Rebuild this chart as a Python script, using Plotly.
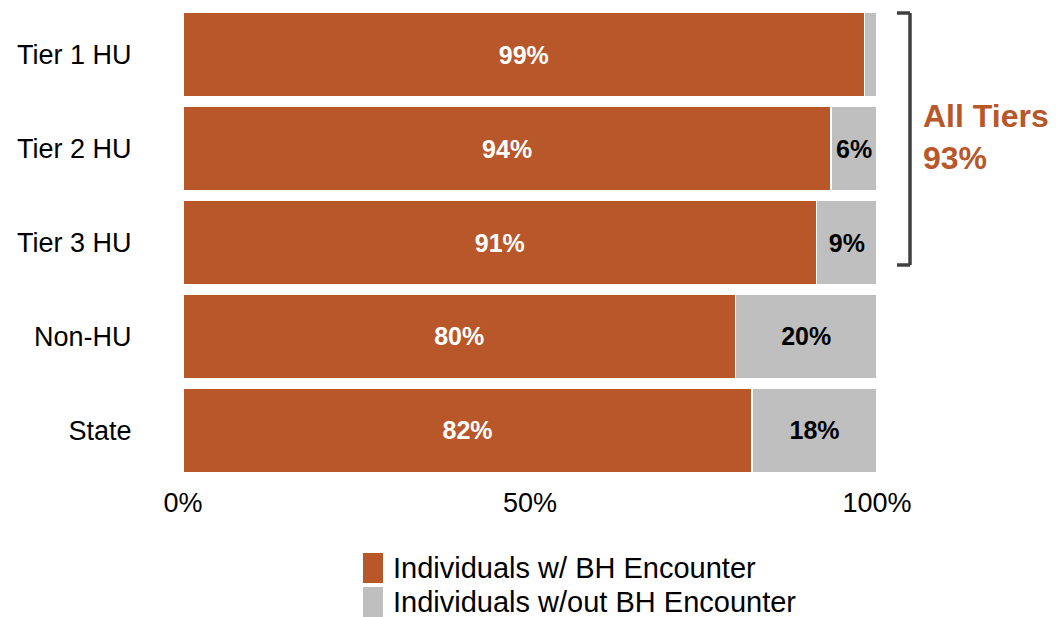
import plotly.graph_objects as go

categories = ["Tier 1 HU", "Tier 2 HU", "Tier 3 HU", "Non-HU", "State"]
with_bh = [98.2, 93.4, 91.3, 79.6, 82.0]
without_bh = [1.8, 6.6, 8.7, 20.4, 18.0]
with_labels = ["99%", "94%", "91%", "80%", "82%"]
without_labels = ["", "6%", "9%", "20%", "18%"]
series_names = ["Individuals w/ BH Encounter", "Individuals w/out BH Encounter"]
tick_vals = [0, 50, 100]
tick_text = ["0%", "50%", "100%"]
annotation_lines = ["All Tiers", "93%"]

ORANGE = "#B8572A"
GRAY = "#BFBFBF"
FONT = "Liberation Sans, Arial, sans-serif"

# page body has an 8px margin; work in page pixels and convert
OFF = 8
PW, PH = 1057, 617
W, H = PW - OFF, PH - OFF
# plot area in page pixels: x 183..877, y 8..477
L, R, T, B = 183, 877, 8, 477


def px(x):
    return (x - L) / (R - L)


def py(y):
    return (B - y) / (B - T)


fig = go.Figure()
fig.add_trace(go.Bar(
    y=categories, x=with_bh, orientation="h", name=series_names[0],
    marker=dict(color=ORANGE, line=dict(color="white", width=1.5)),
    text=with_labels, textposition="inside", insidetextanchor="middle",
    textfont=dict(color="white", size=25, family=FONT, weight="bold"),
    constraintext="none", hoverinfo="skip", showlegend=False,
))
fig.add_trace(go.Bar(
    y=categories, x=without_bh, orientation="h", name=series_names[1],
    marker=dict(color=GRAY, line=dict(color="white", width=1.5)),
    text=without_labels, textposition="inside", insidetextanchor="middle",
    textfont=dict(color="black", size=25, family=FONT, weight="bold"),
    constraintext="none", hoverinfo="skip", showlegend=False,
))

# bracket
bx, btip, btop, bbot = px(910), px(897), py(13), py(265)
for x0, y0, x1, y1 in [(bx, btop, bx, bbot), (btip, btop, bx, btop), (btip, bbot, bx, bbot)]:
    fig.add_shape(type="line", xref="paper", yref="paper", x0=x0, y0=y0, x1=x1, y1=y1,
                  line=dict(color="#404040", width=3.5))

for txt, yc in zip(annotation_lines, [116, 158]):
    fig.add_annotation(xref="paper", yref="paper", x=px(921), y=py(yc), xanchor="left",
                       yanchor="middle", text=txt, showarrow=False, align="left",
                       font=dict(color=ORANGE, size=32, family=FONT, weight="bold"))

# legend drawn as patches + labels
colors = [ORANGE, GRAY]
patch_y = [(553, 583), (587, 617)]
for name, col, (y0, y1) in zip(series_names, colors, patch_y):
    fig.add_shape(type="rect", xref="paper", yref="paper", x0=px(363), x1=px(383),
                  y0=py(y1), y1=py(y0), fillcolor=col, line=dict(width=0), layer="above")
    fig.add_annotation(xref="paper", yref="paper", x=px(391), y=py((y0 + y1) / 2),
                       xanchor="left", yanchor="middle", text=name, showarrow=False,
                       font=dict(color="black", size=29, family=FONT))

fig.update_layout(
    barmode="stack", bargap=0.1,
    width=W, height=H,
    margin=dict(l=L - OFF, r=PW - R, t=T - OFF, b=PH - B, autoexpand=False),
    plot_bgcolor="white", paper_bgcolor="white",
    font=dict(family=FONT, color="black"),
    xaxis=dict(range=[0, 100], tickvals=tick_vals, ticktext=tick_text, showgrid=False,
               zeroline=False, showline=False, tickfont=dict(size=27), ticklen=2,
               ticks="outside", tickcolor="white", fixedrange=True, automargin=False),
    yaxis=dict(categoryorder="array", categoryarray=categories[::-1], showgrid=False,
               zeroline=False, showline=False, tickfont=dict(size=27), ticks="outside",
               ticklen=45, tickcolor="white", automargin=False),
    showlegend=False,
)

fig.write_html("out.html")
